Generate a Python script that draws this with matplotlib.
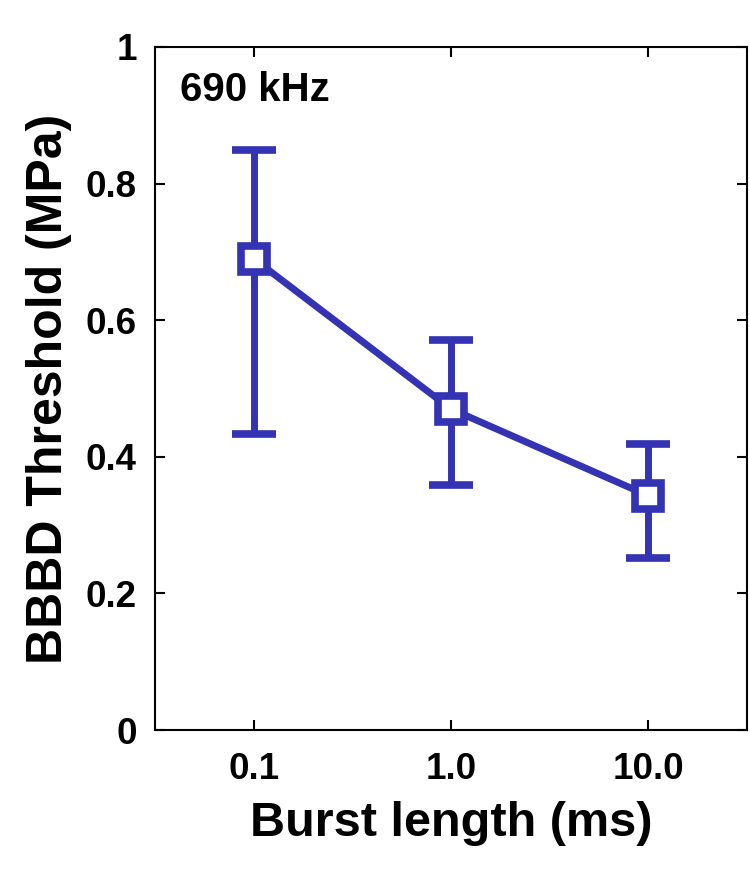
import matplotlib
matplotlib.use("Agg")
import matplotlib.pyplot as plt

plt.rcParams['font.family'] = ['Liberation Sans', 'DejaVu Sans']
plt.rcParams['font.weight'] = 'bold'

burst_ms = [0.1, 1.0, 10.0]
threshold = [0.69, 0.47, 0.343]
err_upper = [0.849, 0.571, 0.419]
err_lower = [0.433, 0.359, 0.252]
xtick_labels = ['0.1', '1.0', '10.0']
yticks = [0, 0.2, 0.4, 0.6, 0.8, 1]
ytick_labels = ['0', '0.2', '0.4', '0.6', '0.8', '1']

color = '#3333B3'

fig = plt.figure(figsize=(7.5, 8.75), dpi=100)
ax = fig.add_axes([155/750, 1-730/875, (747-155)/750, (730-47)/875])

yerr = [[t - l for t, l in zip(threshold, err_lower)],
        [u - t for t, u in zip(threshold, err_upper)]]
ax.errorbar(burst_ms, threshold, yerr=yerr, color=color, lw=5, elinewidth=5,
            capsize=16, capthick=5, marker='s', markersize=19,
            markerfacecolor='white', markeredgecolor=color, markeredgewidth=5.5)

ax.set_xscale('log')
ax.set_xlim(10**-1.5, 10**1.5)
ax.set_ylim(0, 1)
ax.set_xticks(burst_ms)
ax.set_xticklabels(xtick_labels)
ax.xaxis.set_minor_locator(matplotlib.ticker.NullLocator())
ax.set_yticks(yticks)
ax.set_yticklabels(ytick_labels)
ax.tick_params(direction='in', length=7, width=1.5, labelsize=26.5, top=True, right=True)
ax.tick_params(axis='x', pad=16)
ax.tick_params(axis='y', pad=13)
for s in ax.spines.values():
    s.set_linewidth(1.5)

ax.set_xlabel('Burst length (ms)', fontsize=35, fontweight='bold', labelpad=10)
ax.set_ylabel('BBBD Threshold (MPa)', fontsize=36, fontweight='bold', labelpad=10)
ax.text(0.043, 0.937, '690 kHz', transform=ax.transAxes, fontsize=29, fontweight='bold',
        va='center', ha='left')

fig.savefig('out.png', dpi=100)
